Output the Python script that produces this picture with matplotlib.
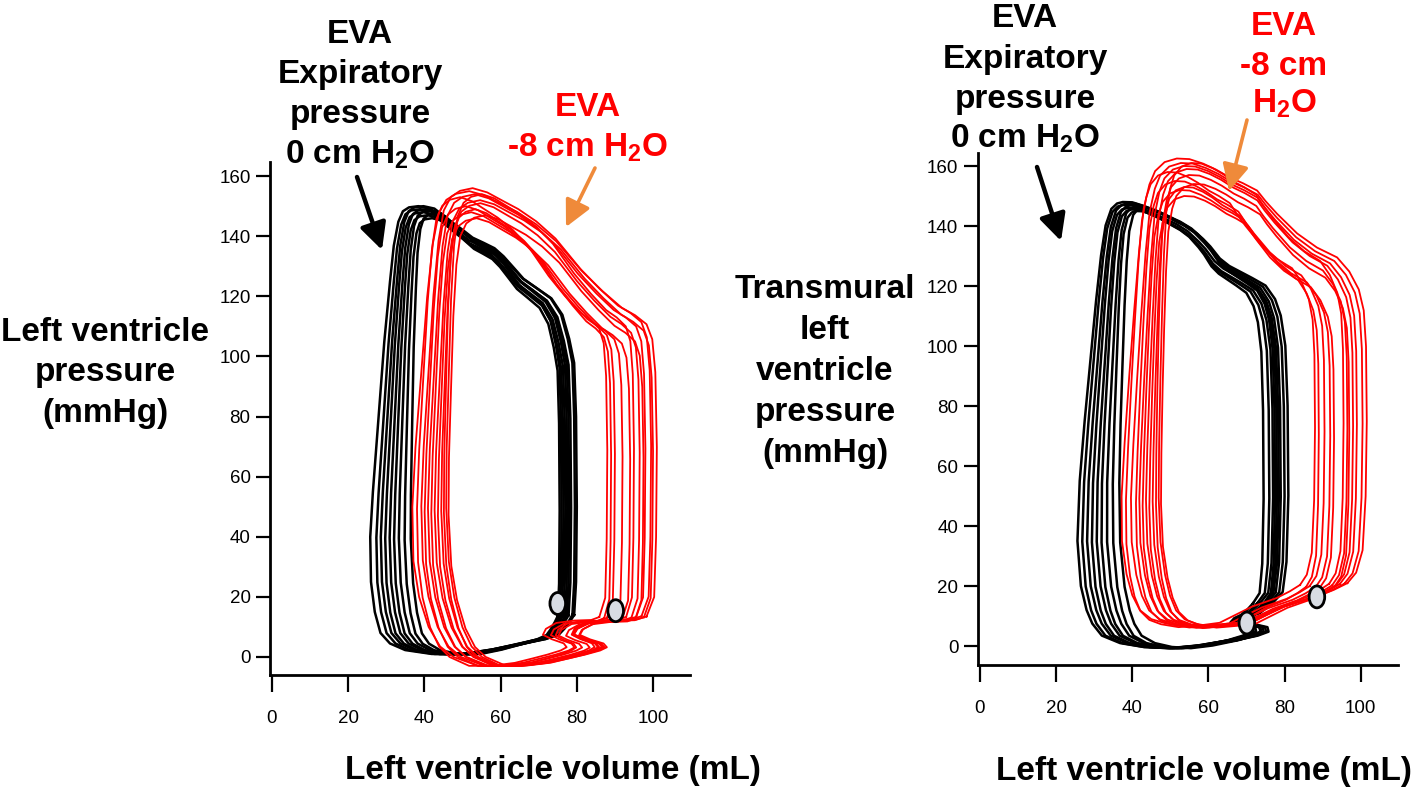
import numpy as np
import matplotlib.pyplot as plt
from matplotlib.patches import Ellipse, FancyArrowPatch

plt.rcParams['font.family'] = ['Liberation Sans', 'DejaVu Sans']
plt.rcParams['mathtext.default'] = 'regular'

W, H = 1418, 787

# outermost loop of each recording: (volume mL, pressure mmHg)
left_black_loop = [(79.5, 14), (80, 25), (80.2, 50), (80, 80), (79.5, 98), (78.2, 106),
                   (76.4, 114), (73.5, 119.5), (69.5, 123), (66, 126), (63.3, 129.7),
                   (60.5, 133.5), (58, 136.2), (55, 138), (52, 139.7), (48.5, 143),
                   (45, 146), (41.5, 149.4), (38.5, 150.2), (36, 149.8), (34.4, 148.5),
                   (33.2, 145), (32, 137), (31, 125), (29.5, 105), (28, 80), (26.5, 55),
                   (25.8, 40), (26, 25), (27, 15), (28.5, 8), (31, 4.5), (35, 2.3),
                   (42, 1), (50, 1), (58, 2.5), (66, 4.5), (72, 6), (75.5, 7.5),
                   (77, 9.5), (78.5, 12)]
left_red_loop = [(98.5, 13.5), (100.5, 20), (101, 40), (101.2, 70), (100.8, 95),
                 (100, 106), (98.5, 111), (95.5, 114), (92, 116.5), (87, 122),
                 (81.6, 128.7), (78, 134), (74.8, 138.7), (69.5, 144.4), (64.5, 148.5),
                 (60.6, 151), (56, 154), (52, 155.4), (48.5, 154.5), (46, 152.5),
                 (44, 148), (42.5, 138), (41, 120), (39.5, 95), (38, 70), (37.2, 50),
                 (37.5, 32), (39, 20), (41.5, 10), (44.5, 3.5), (48, 0), (54.6, -3),
                 (62, -3), (70, -2), (76, -0.5), (81, 0.8), (85.5, 2.2), (87.5, 3.3),
                 (86.5, 4.6), (82.5, 6), (79.5, 7.5), (80.5, 9.5), (84, 11.5),
                 (90, 12.3), (95.8, 12.5)]
right_black_loop = [(77, 14.5), (79.5, 18), (80.5, 28), (81, 50), (80.8, 80), (80.2, 100),
                    (79, 110), (77.5, 115.5), (75, 120), (71.5, 122.5), (68.5, 124.5),
                    (65.5, 126.5), (63, 129), (60.5, 133), (58.6, 135.5), (55.5, 139),
                    (52.5, 141.3), (49.5, 143), (46.5, 144.8), (43, 146.5), (40, 147.7),
                    (37.5, 147.8), (36, 147.3), (34.5, 145.5), (33, 140), (31.8, 130),
                    (30.5, 115), (29, 95), (27.5, 75), (26.2, 55), (25.6, 35), (26.5, 20),
                    (28, 12), (29.5, 7.5), (32, 3.5), (36.8, 1), (43, -0.3), (50, -0.7),
                    (58, 0.2), (67.5, 2), (73, 3.5), (75.8, 4.8), (75.5, 6.3), (72, 7.3),
                    (68.5, 8), (70, 9.5), (73.5, 11)]
right_red_loop = [(96.5, 21), (98.8, 24.5), (100.5, 32), (101.3, 50), (101.6, 75),
                  (101.4, 100), (100.8, 112), (99.5, 119), (97, 125), (93.8, 129.7),
                  (88.5, 133), (83.3, 137.7), (78, 144.3), (75, 148.5), (72.8, 152),
                  (69, 154.5), (65.7, 156.3), (62, 159), (58.6, 161), (55, 162.5),
                  (51.7, 162.7), (48.5, 161.5), (46, 158.5), (44.5, 154), (43, 146),
                  (41.8, 132), (40.5, 112), (39.2, 90), (38, 68), (37.2, 50), (37.3, 35),
                  (38.5, 24), (40, 17), (42, 12), (45, 9), (49, 7.5), (55, 6.5),
                  (63, 7.2), (69, 8), (74, 10.5), (80, 13.5), (88.5, 16.5), (93, 18.8)]

# each beat: volume of its left (end-systolic) side, right (end-diastolic) side, peak pressure
left_black_lefts = [25.8, 27.6, 28.9, 30.2, 31.5, 32.8, 34.2, 35.9, 37.7]
left_black_rights = [80, 78.5, 79.5, 77, 78, 76.5, 77.5, 75.5, 76]
left_black_peaks = [150, 149, 150, 148, 149, 147, 148.5, 146, 147.5]

left_red_lefts = [36.8, 38.2, 39.5, 40.5, 41.5, 42.5, 43.5, 44.5, 45.5, 46.3, 47, 47.7]
left_red_rights = [101, 88, 99.5, 90, 98, 92, 100, 94, 96.5, 89, 95, 97.5]
left_red_peaks = [155, 153, 156, 150, 154, 148, 152, 146, 151, 149, 154, 147]

right_black_lefts = [25.6, 27, 28.4, 29.8, 31.2, 32.6, 34.2, 36, 38]
right_black_rights = [81, 78.5, 80, 77, 79, 76, 78, 74.5, 77.5]
right_black_peaks = [148, 147, 147.5, 146, 147, 145.5, 146.5, 145, 146]

right_red_lefts = [37.2, 38.5, 40, 41.5, 42.5, 43.5, 44.5, 45.5, 46.5, 47.5, 48.3, 49]
right_red_rights = [101.6, 88, 100.5, 90.5, 99, 92, 98, 93, 96.5, 89, 95.5, 97]
right_red_peaks = [162.5, 158, 161, 155, 160, 152, 159, 150, 157, 153, 161, 154]

# end-diastolic markers (volume, pressure)
left_markers = [(75, 17.8), (90.2, 15.4)]
right_markers = [(70.1, 7.7), (88.5, 16.4)]


def draw_loops(ax, template, lefts, rights, peaks, color, lw):
    v = np.array([q[0] for q in template])
    p = np.array([q[1] for q in template])
    vmin, vmax, ptop = v.min(), v.max(), p.max()
    w = (v - vmin) / (vmax - vmin)
    taper = 1 - 0.4 * np.clip(p, 0, None) / ptop
    for L, R, pk in zip(lefts, rights, peaks):
        vv = v + (1 - w) * (L - vmin) * taper + w * (R - vmax)
        pp = p * pk / ptop
        ax.plot(np.append(vv, vv[0]), np.append(pp, pp[0]), color=color, lw=lw,
                solid_joinstyle='round', zorder=2)


def style_axes(ax, xlim, ylim):
    ax.set_xlim(*xlim)
    ax.set_ylim(*ylim)
    ax.spines['top'].set_visible(False)
    ax.spines['right'].set_visible(False)
    for s in ['left', 'bottom']:
        ax.spines[s].set_linewidth(2)
    ax.set_xticks(range(0, 101, 20))
    ax.set_yticks(range(0, 161, 20))
    ax.tick_params(axis='y', direction='out', length=10, width=1.6, pad=4, labelsize=13.5)
    ax.tick_params(axis='x', direction='out', length=12, width=1.6, pad=13, labelsize=13.5)
    ax.patch.set_alpha(0)


def markers(ax, pts):
    for v, p in pts:
        ax.add_patch(Ellipse((v, p), 4.1, 7.3, facecolor='#d8dce3', edgecolor='black',
                             lw=2, zorder=5))


def ftext(x, y, s, color='black', size=24):
    fig.text(x / W, 1 - y / H, s, ha='center', va='baseline', fontsize=size,
             fontweight='bold', color=color)


def farrow(x0, y0, x1, y1, color, lw):
    fig.add_artist(FancyArrowPatch((x0 / W, 1 - y0 / H), (x1 / W, 1 - y1 / H),
                                   transform=fig.transFigure, color=color, lw=lw,
                                   arrowstyle='-|>,head_length=0.8,head_width=0.4',
                                   mutation_scale=20, shrinkA=0, shrinkB=0))


fig = plt.figure(figsize=(W / 100, H / 100), dpi=100)
ax1 = fig.add_axes([270 / W, (H - 675) / H, 420 / W, 513 / H])
ax2 = fig.add_axes([977.7 / W, (H - 665) / H, 420.3 / W, 512.5 / H])

draw_loops(ax1, left_black_loop, left_black_lefts, left_black_rights, left_black_peaks, 'black', 1.8)
draw_loops(ax1, left_red_loop, left_red_lefts, left_red_rights, left_red_peaks, '#ff0000', 1.3)
markers(ax1, left_markers)
style_axes(ax1, (-0.5, 109.7), (-6, 164.7))

draw_loops(ax2, right_black_loop, right_black_lefts, right_black_rights, right_black_peaks, 'black', 1.8)
draw_loops(ax2, right_red_loop, right_red_lefts, right_red_rights, right_red_peaks, '#ff0000', 1.3)
markers(ax2, right_markers)
style_axes(ax2, (-0.6, 109.8), (-6.3, 164.5))

# annotations
for y, s in zip([43, 83, 123, 164], ['EVA', 'Expiratory', 'pressure', '0 cm H$_2$O']):
    ftext(360, y, s)
for y, s in zip([116, 157], ['EVA', '-8 cm H$_2$O']):
    ftext(588, y, s, color='#ff0000')
for y, s in zip([27, 68, 108, 148], ['EVA', 'Expiratory', 'pressure', '0 cm H$_2$O']):
    ftext(1025, y, s)
for y, s in zip([35, 75, 113], ['EVA', '-8 cm', 'H$_2$O']):
    ftext(1284, y, s, color='#ff0000')

for y, s in zip([341, 381, 422], ['Left ventricle', 'pressure', '(mmHg)']):
    ftext(105, y, s)
for y, s in zip([298, 339, 380, 421, 462], ['Transmural', 'left', 'ventricle', 'pressure', '(mmHg)']):
    ftext(825, y, s)
ftext(553, 779, 'Left ventricle volume (mL)')
ftext(1204, 780, 'Left ventricle volume (mL)')

farrow(357, 177, 382, 250, 'black', 3.2)
farrow(1037, 167, 1061, 241, 'black', 3.2)
farrow(595, 168, 566, 227, '#ef8a3a', 2.6)
farrow(1247, 120, 1229, 191, '#ef8a3a', 2.6)

fig.savefig('out.png', dpi=100)
